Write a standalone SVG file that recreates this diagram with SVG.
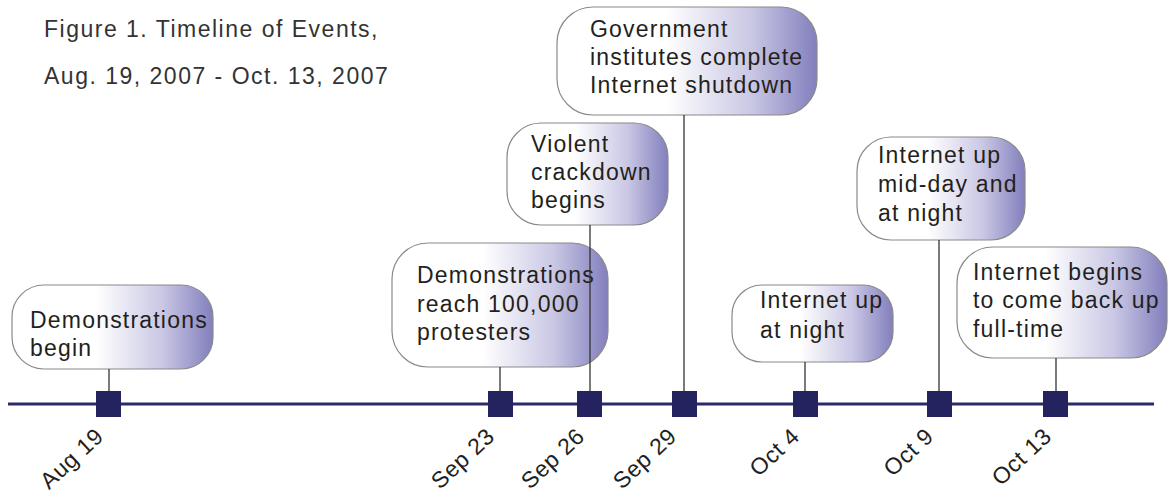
<svg xmlns="http://www.w3.org/2000/svg" width="1169" height="498" viewBox="0 0 1169 498">
<defs>
<linearGradient id="bub" x1="0" y1="0" x2="1" y2="0">
<stop offset="0" stop-color="#ffffff"/>
<stop offset="0.42" stop-color="#ffffff"/>
<stop offset="0.75" stop-color="#c9c7e4"/>
<stop offset="1" stop-color="#827fbd"/>
</linearGradient>
</defs>
<style>
.box{fill:url(#bub);stroke:#8a8a8a;stroke-width:1.2}
.t{font-family:"Liberation Sans",Arial,sans-serif;font-size:23px;fill:#231f20;letter-spacing:1.2px}
.title{font-family:"Liberation Sans",Arial,sans-serif;font-size:23px;fill:#333333;letter-spacing:1.5px}
.d{font-family:"Liberation Sans",Arial,sans-serif;font-size:23px;fill:#231f20;letter-spacing:0.6px;text-anchor:end}
.sq{fill:#25235f}
.axis{stroke:#2b2a6b;stroke-width:3}
.c{stroke:#333333;stroke-width:1.3;fill:none}
</style>
<rect width="1169" height="498" fill="#ffffff"/>
<g id="title">
<text class="title" x="44" y="37">Figure 1. Timeline of Events,</text>
<text class="title" x="44" y="84">Aug. 19, 2007 - Oct. 13, 2007</text>
</g>
<line id="axis" class="axis" x1="8" y1="404" x2="1154" y2="404"/>
<g id="aug19">
<rect class="box" x="12" y="285" width="201" height="84" rx="32" ry="32"/>
<text class="t" x="30" y="328">Demonstrations</text>
<text class="t" x="30" y="356">begin</text>
<rect class="sq" x="96" y="391" width="25" height="26"/>
<text class="d" transform="translate(105,438) rotate(-43)">Aug 19</text>
</g>
<g id="sep23">
<rect class="box" x="392" y="243" width="216" height="124" rx="36" ry="36"/>
<text class="t" x="417" y="283">Demonstrations</text>
<text class="t" x="417" y="312">reach 100,000</text>
<text class="t" x="417" y="340">protesters</text>
<rect class="sq" x="488" y="391" width="25" height="26"/>
<text class="d" transform="translate(496,438) rotate(-43)">Sep 23</text>
</g>
<g id="sep26">
<rect class="box" x="507" y="123" width="161" height="102" rx="34" ry="34"/>
<text class="t" x="531" y="152">Violent</text>
<text class="t" x="531" y="180">crackdown</text>
<text class="t" x="531" y="208">begins</text>
<rect class="sq" x="577" y="391" width="25" height="26"/>
<text class="d" transform="translate(586,438) rotate(-43)">Sep 26</text>
</g>
<g id="sep29">
<rect class="box" x="557" y="7" width="260" height="108" rx="36" ry="36"/>
<text class="t" x="590" y="37">Government</text>
<text class="t" x="590" y="65">institutes complete</text>
<text class="t" x="590" y="93">Internet shutdown</text>
<rect class="sq" x="672" y="391" width="25" height="26"/>
<text class="d" transform="translate(678,438) rotate(-43)">Sep 29</text>
</g>
<g id="oct4">
<rect class="box" x="732" y="285" width="161" height="77" rx="30" ry="30"/>
<text class="t" x="760" y="308">Internet up</text>
<text class="t" x="760" y="338">at night</text>
<rect class="sq" x="793" y="391" width="25" height="26"/>
<text class="d" transform="translate(801,438) rotate(-43)">Oct 4</text>
</g>
<g id="oct9">
<rect class="box" x="857" y="137" width="168" height="103" rx="34" ry="34"/>
<text class="t" x="878" y="163">Internet up</text>
<text class="t" x="878" y="192">mid-day and</text>
<text class="t" x="878" y="221">at night</text>
<rect class="sq" x="927" y="391" width="25" height="26"/>
<text class="d" transform="translate(935,438) rotate(-43)">Oct 9</text>
</g>
<g id="oct13">
<rect class="box" x="957" y="247" width="210" height="111" rx="36" ry="36"/>
<text class="t" x="973" y="280">Internet begins</text>
<text class="t" x="973" y="308">to come back up</text>
<text class="t" x="973" y="337">full-time</text>
<rect class="sq" x="1043" y="391" width="25" height="26"/>
<text class="d" transform="translate(1053,438) rotate(-43)">Oct 13</text>
</g>
<g id="connectors">
<line class="c" x1="109" y1="369" x2="109" y2="391"/>
<line class="c" x1="500" y1="367" x2="500" y2="391"/>
<line class="c" x1="590" y1="225" x2="590" y2="391"/>
<line class="c" x1="684" y1="115" x2="684" y2="391"/>
<line class="c" x1="805" y1="362" x2="805" y2="391"/>
<line class="c" x1="939" y1="240" x2="939" y2="391"/>
<line class="c" x1="1056" y1="358" x2="1056" y2="391"/>
</g>
</svg>
